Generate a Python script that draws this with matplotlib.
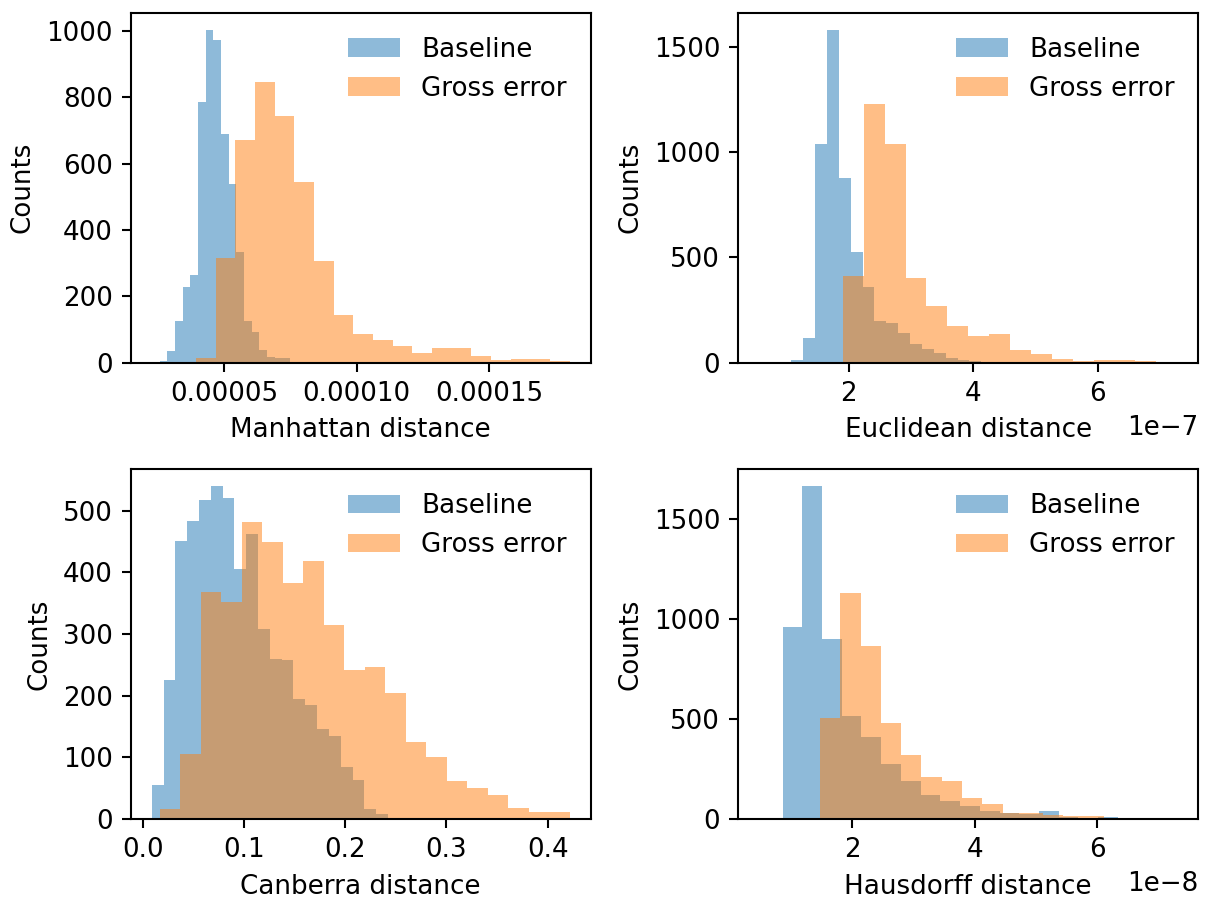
import numpy as np
import matplotlib
matplotlib.use('Agg')
import matplotlib.pyplot as plt

# bin ranges (lo, hi) and counts, 20 bins per histogram
manh_base_range = (2.280e-5, 8.074e-5)
manh_base = [1, 4, 35, 124, 227, 265, 785, 1004, 972, 688,
             538, 333, 126, 92, 39, 18, 15, 13, 3, 1]
manh_gross_range = (3.199e-5, 18.035e-5)
manh_gross = [0, 14, 314, 672, 845, 744, 544, 305, 143, 85,
              67, 49, 30, 43, 43, 20, 8, 11, 11, 5]

eucl_base_range = (1.075e-7, 4.892e-7)
eucl_base = [12, 116, 1041, 1583, 878, 525, 360, 198, 186, 141,
             90, 63, 43, 22, 13, 6, 4, 2, 1, 1]
eucl_gross_range = (0.559e-7, 7.280e-7)
eucl_gross = [0, 0, 0, 3, 411, 1229, 1041, 400, 271, 175,
              124, 135, 59, 41, 17, 8, 13, 10, 6, 1]

canb_base_range = (0.0089, 0.2422)
canb_base = [55, 226, 451, 483, 518, 540, 521, 405, 462, 308,
             259, 258, 195, 185, 146, 134, 84, 63, 16, 8]
canb_gross_range = (0.0165, 0.4218)
canb_gross = [16, 105, 368, 352, 482, 450, 383, 418, 315, 241,
              246, 204, 125, 100, 61, 50, 39, 18, 12, 12]

haus_base_range = (0.868e-8, 7.301e-8)
haus_base = [960, 1664, 900, 517, 410, 276, 189, 120, 88, 65,
             42, 32, 23, 38, 12, 7, 8, 2, 1, 1]
haus_gross_range = (0.490e-8, 7.097e-8)
haus_gross = [0, 0, 5, 505, 1131, 867, 482, 322, 209, 188,
              106, 73, 32, 28, 18, 15, 13, 7, 2, 0]

xlabels = ['Manhattan distance', 'Euclidean distance',
           'Canberra distance', 'Hausdorff distance']
panels = [(manh_base_range, manh_base, manh_gross_range, manh_gross),
          (eucl_base_range, eucl_base, eucl_gross_range, eucl_gross),
          (canb_base_range, canb_base, canb_gross_range, canb_gross),
          (haus_base_range, haus_base, haus_gross_range, haus_gross)]


def draw(ax, rng, counts, label):
    edges = np.linspace(rng[0], rng[1], len(counts) + 1)
    ax.hist(edges[:-1], bins=edges, weights=counts, alpha=0.5, label=label)


fig, axes = plt.subplots(2, 2, figsize=(1205/188., 899/188.), dpi=188)
for ax, (br, b, gr, g), xl in zip(axes.flat, panels, xlabels):
    draw(ax, br, b, 'Baseline')
    draw(ax, gr, g, 'Gross error')
    ax.set_xlabel(xl)
    ax.set_ylabel('Counts')
    ax.legend(frameon=False, loc='upper right')

fig.subplots_adjust(left=0.1087, right=0.9942, top=0.9855, bottom=0.089,
                    wspace=0.322, hspace=0.306)
fig.savefig('out.png', dpi=188)
